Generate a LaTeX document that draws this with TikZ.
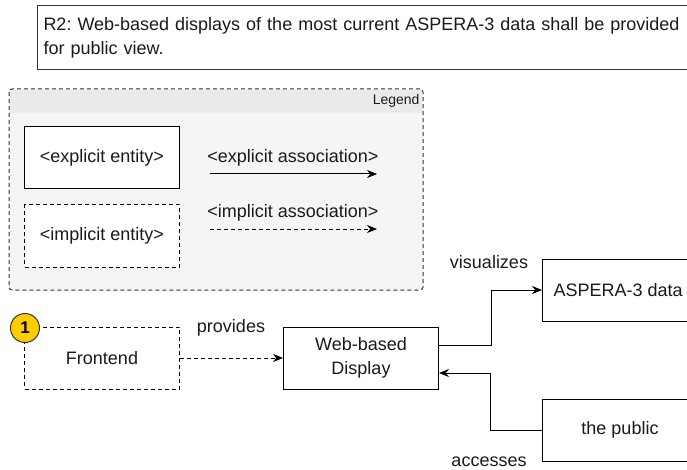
\documentclass[tikz,border=0pt]{standalone}
\usepackage{fontspec}
\setmainfont{Liberation Sans}
\usetikzlibrary{arrows.meta}

\definecolor{txt}{HTML}{1A1A1A}
\definecolor{rahmen}{HTML}{333333}
\definecolor{legfill}{HTML}{F5F5F5}
\definecolor{legkopf}{HTML}{EBEBEB}
\definecolor{gold}{HTML}{FFCC00}

\tikzset{
  box/.style={draw=black,fill=white,minimum width=155pt,minimum height=62pt,
    align=center,inner sep=2pt,text=txt},
  ibox/.style={box,dash pattern=on 4pt off 3pt},
  pfeil/.style={-{Stealth[length=10pt,width=8pt]},draw=black},
  ipfeil/.style={pfeil,dash pattern=on 4pt off 3pt},
  lab/.style={text=txt,inner sep=0pt}
}

\begin{document}
\frenchspacing
\begin{tikzpicture}[x=1pt,y=-1pt,line width=1pt,font=\fontsize{18}{24}\selectfont]
  \useasboundingbox (0,0) rectangle (687,470);

  %要件
  \node[draw=rahmen,anchor=north west,minimum width=680pt,minimum height=64pt,
    align=left,text width=668pt,inner xsep=6pt,text=txt] (req) at (37,5)
    {R2: Web-based displays of the most current ASPERA-3 data shall be provided\\for public view.};

  %凡例
  \draw[draw=rahmen,fill=legfill,dash pattern=on 4pt off 3pt,rounded corners=3pt]
    (9,89) rectangle (423,290);
  \fill[legkopf] (10,90) rectangle (422,113);
  \node[lab,anchor=east,font=\fontsize{14}{17}\selectfont] (legend) at (420,101) {Legend};

  \node[box] (expl) at (102,158) {<explicit entity>};
  \node[ibox] (impl) at (102,236) {<implicit entity>};

  \coordinate (ea1) at (210,174);
  \coordinate (ea2) at (377,174);
  \coordinate (ia1) at (210,229);
  \coordinate (ia2) at (377,229);
  \draw[pfeil] (ea1) -- (ea2);
  \draw[ipfeil] (ia1) -- (ia2);
  \node[lab] (ealab) at (293,158) {<explicit association>};
  \node[lab] (ialab) at (293,213) {<implicit association>};

  %ノード
  \node[ibox] (front) at (102,358) {Frontend};
  \node[box] (web) at (361,358) {Web-based\\Display};
  \node[box,minimum width=160pt,anchor=west] (data) at (542,290) {};
  \node[lab,anchor=west] (datalab) at (553,290) {ASPERA-3 data};
  \node[box,minimum width=160pt,anchor=west] (pub) at (542,430) {};
  \node[lab] (publab) at (620,430) {the public};

  %番号
  \node[circle,draw=rahmen,fill=gold,minimum size=29pt,inner sep=0pt,
    font=\fontsize{17}{17}\selectfont\bfseries] (eins) at (25,328) {1};

  %矢印
  \draw[ipfeil] (front) -- (web);
  \draw[pfeil] ([yshift=13pt]web.east) -- ++(52,0) |- (data.west);
  \draw[pfeil] (pub.west) -- ++(-52,0) |- ([yshift=-15pt]web.east);

  %ラベル
  \node[lab] (prov) at (231,328) {provides};
  \node[lab] (vis) at (489,262) {visualizes};
  \node[lab] (acc) at (489,462) {accesses};
\end{tikzpicture}
\end{document}
